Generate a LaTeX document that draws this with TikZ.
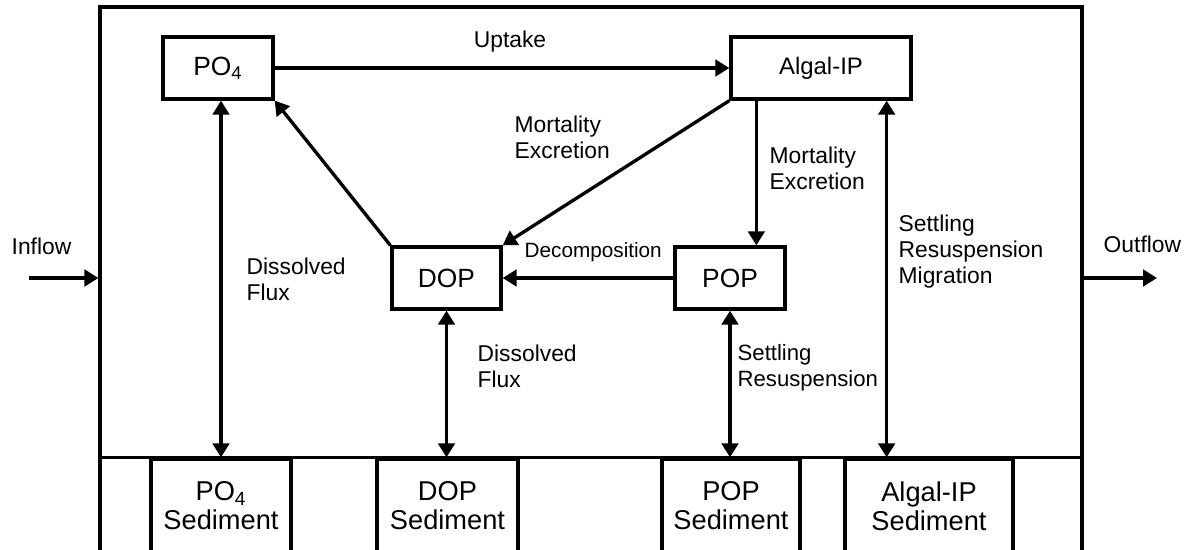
\documentclass[tikz,border=0pt]{standalone}
\usepackage{fontspec}
\setmainfont{Liberation Sans}
\usetikzlibrary{arrows.meta,calc}

\tikzset{
    pool/.style={draw, inner sep=0pt, minimum height=1.24cm, font=\fontsize{15}{18}\selectfont},
    sediment/.style={draw, inner sep=0pt, align=center, minimum height=1.88cm, font=\fontsize{15.5}{16.5}\selectfont},
    lbl/.style={inner sep=0pt, align=left, font=\fontsize{13}{14.8}\selectfont},
    flow/.style={-{Triangle[length=2.8mm,width=3.3mm]}},
    flux/.style={{Triangle[length=2.8mm,width=3.3mm]}-{Triangle[length=2.8mm,width=3.3mm]}}
}

\begin{document}
\begin{tikzpicture}[x=0.02cm, y=-0.02cm, line width=1.9pt]
    \useasboundingbox (0,0) rectangle (1190,549);

    % water column and sediment layer
    \node[draw, minimum width=19.64cm, minimum height=10.92cm] (lake) at (591,280) {};
    \node[sediment, minimum width=2.8cm] (sedPO4) at (221,506) {PO\textsubscript{4}\\Sediment};
    \node[sediment, minimum width=2.82cm] (sedDOP) at (447.5,506) {DOP\\Sediment};
    \node[sediment, minimum width=2.76cm] (sedPOP) at (731,506) {POP\\Sediment};
    \node[sediment, minimum width=3.36cm] (sedAlgal) at (929,506) {Algal-IP\\Sediment};
    \draw (lake.west |- sedPO4.north) -- (lake.east |- sedPO4.north);

    % state variables
    \node[pool, minimum width=2.2cm] (PO4) at (218,68) {PO\textsubscript{4}};
    \node[pool, minimum width=3.6cm, font=\fontsize{13.6}{16}\selectfont] (algal) at (821,68) {Algal-IP};
    \node[pool, minimum width=2.18cm] (DOP) at (446.5,278) {DOP};
    \node[pool, minimum width=2.2cm] (POP) at (730,278) {POP};

    \coordinate (inflow) at (29,278);
    \coordinate (outflow) at (1157,278);
    \coordinate (algalA) at ($(algal.south west)+(27,0)$);
    \coordinate (algalB) at ($(algal.south east)+(-26,0)$);

    \draw[flow] (inflow) -- (inflow -| lake.west);
    \draw[flow] (outflow -| lake.east) -- (outflow);
    \draw[flow] (PO4) -- (algal);
    \draw[flow] (algal.south west) -- (DOP.north east);
    \draw[flow] (algalA) -- (algalA |- POP.north);
    \draw[flow] (POP) -- (DOP);
    \draw[flow] (DOP.north west) -- (PO4.south east);
    \draw[flux] (sedPO4.north |- PO4.south) -- (sedPO4.north);
    \draw[flux] (DOP.south) -- (DOP.south |- sedDOP.north);
    \draw[flux] (POP.south) -- (POP.south |- sedPOP.north);
    \draw[flux] (algalB) -- (algalB |- sedAlgal.north);

    % process labels (base = last line)
    \node[lbl, anchor=base west] (inLbl) at (10,254) {Inflow};
    \node[lbl, anchor=base west] (outLbl) at (1102,252) {Outflow};
    \node[lbl, anchor=base] (uptake) at (510,47) {Uptake};
    \node[lbl, anchor=base west] (mortA) at (513,158) {Mortality\\Excretion};
    \node[lbl, anchor=base west] (mortB) at (768,189) {Mortality\\Excretion};
    \node[lbl, anchor=base west, font=\fontsize{11.8}{14}\selectfont] (decomp) at (523,257) {Decomposition};
    \node[lbl, anchor=base west] (fluxA) at (245,300) {Dissolved\\Flux};
    \node[lbl, anchor=base west] (fluxB) at (476,387) {Dissolved\\Flux};
    \node[lbl, anchor=base west, font=\fontsize{12.6}{14.8}\selectfont] (settleA) at (736,386) {Settling\\Resuspension};
    \node[lbl, anchor=base west] (settleB) at (897,283) {Settling\\Resuspension\\Migration};
\end{tikzpicture}
\end{document}
